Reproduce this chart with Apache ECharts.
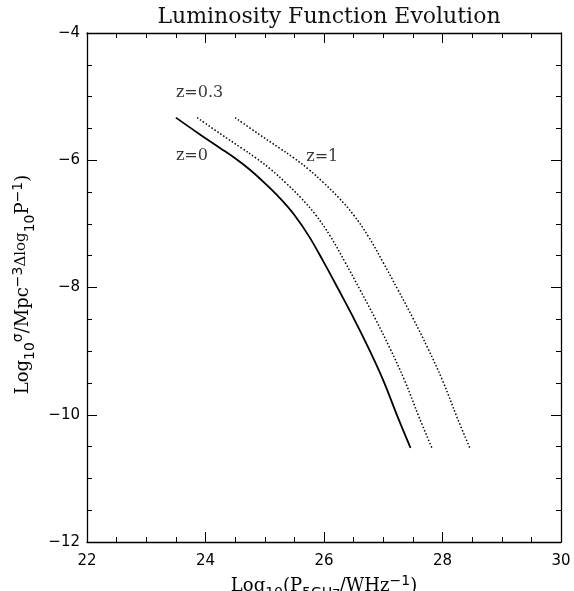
<!DOCTYPE html>
<html>
<head>
<meta charset="utf-8">
<script src="https://cdn.jsdelivr.net/npm/echarts@6/dist/echarts.min.js"></script>
<style>
  html, body { margin: 0; padding: 0; background: #fff; }
  #box { width: 574px; height: 591px; }
</style>
</head>
<body>
<div id="box"></div>
<script>
// data: [log10 P, log10 density]
var z0 = [
  [23.5, -5.33], [23.9, -5.59], [24.25, -5.81], [24.5, -5.97], [24.75, -6.15],
  [25.0, -6.36], [25.25, -6.59], [25.5, -6.86], [25.75, -7.2], [26.0, -7.61],
  [26.25, -8.04], [26.5, -8.48], [26.75, -8.95], [27.0, -9.46], [27.25, -10.05],
  [27.46, -10.52]
];
var z03 = [
  [23.86, -5.33], [24.26, -5.59], [24.61, -5.81], [24.86, -5.97], [25.11, -6.15],
  [25.36, -6.36], [25.61, -6.59], [25.86, -6.86], [26.11, -7.2], [26.36, -7.61],
  [26.61, -8.04], [26.86, -8.48], [27.11, -8.95], [27.36, -9.46], [27.61, -10.05],
  [27.82, -10.52]
];
var z1 = [
  [24.5, -5.33], [24.9, -5.59], [25.25, -5.81], [25.5, -5.97], [25.75, -6.15],
  [26.0, -6.36], [26.25, -6.59], [26.5, -6.86], [26.75, -7.2], [27.0, -7.61],
  [27.25, -8.04], [27.5, -8.48], [27.75, -8.95], [28.0, -9.46], [28.25, -10.05],
  [28.46, -10.52]
];
var curveNames = ["z=0", "z=0.3", "z=1"];
var labelText = ["z=0.3", "z=0", "z=1"];
var labelPos = [[23.5, -4.94], [23.5, -5.93], [25.7, -5.95]];

var xMin = 22, xMax = 30, yMin = -12, yMax = -4;

var myChart = echarts.init(document.getElementById("box"));

var serif = "DejaVu Serif";
var sans = "DejaVu Sans";

function minus(v) {
  return String(v).replace("-", "\u2212");
}

// 坐标轴公共样式
function axisBase() {
  return {
    axisLine: { show: true, onZero: false, lineStyle: { color: "#000", width: 1.3 } },
    axisTick: { show: true, inside: true, length: 10, lineStyle: { color: "#000", width: 1 } },
    minorTick: { show: true, splitNumber: 4, length: 5, lineStyle: { color: "#000", width: 1 } },
    splitLine: { show: false },
    minorSplitLine: { show: false }
  };
}

function xAxis(pos, show) {
  return Object.assign(axisBase(), {
    type: "value",
    position: pos,
    min: xMin,
    max: xMax,
    interval: 2,
    axisLabel: {
      show: show, color: "#000", fontFamily: sans, fontSize: 15, margin: 12,
      formatter: minus
    }
  });
}

function yAxis(pos, show) {
  return Object.assign(axisBase(), {
    type: "value",
    position: pos,
    min: yMin,
    max: yMax,
    interval: 2,
    axisLabel: {
      show: show, color: "#000", fontFamily: sans, fontSize: 15, margin: 7,
      formatter: minus
    }
  });
}

var richName = {
  a: { fontFamily: serif, fontSize: 18, color: "#000" },
  b: { fontFamily: serif, fontSize: 15, color: "#000", padding: [0, 0, 5, 0] },
  sub: { fontFamily: sans, fontSize: 14, color: "#000", padding: [13, 0, 0, 0] },
  sup: { fontFamily: sans, fontSize: 14, color: "#000", padding: [0, 0, 11, 0] }
};

var xa = xAxis("bottom", true);
xa.name = "{a|Log}{sub|10}{a|(P}{sub|5GHz}{a|/WHz}{sup|\u22121}{a|)}";
xa.nameLocation = "middle";
xa.nameGap = 31;
xa.nameTextStyle = { color: "#000", rich: richName };

var ya = yAxis("left", true);
ya.name = "{a|Log}{sub|10}{sup|\u03c3}{a|/Mpc}{sup|\u22123}{b|\u0394log}{sub|10}{a|P}{sup|\u22121}{a|)}";
ya.nameLocation = "middle";
ya.nameGap = 50;
ya.nameTextStyle = { color: "#000", padding: [0, 0, 0, 6], rich: richName };

var labelData = labelText.map(function (t, i) {
  return { name: t, value: labelPos[i] };
});

myChart.setOption({
  animation: false,
  backgroundColor: "#fff",
  title: {
    text: "Luminosity Function Evolution",
    left: 324,
    top: 1,
    textAlign: "center",
    textStyle: { fontFamily: serif, fontWeight: "normal", fontSize: 22, color: "#111" }
  },
  grid: { left: 87, right: 13, top: 33, bottom: 49, containLabel: false, outerBoundsMode: "none" },
  xAxis: [xa, xAxis("top", false)],
  yAxis: [ya, yAxis("right", false)],
  series: [
    {
      name: curveNames[0],
      type: "line",
      data: z0,
      smooth: 0.4,
      showSymbol: false,
      lineStyle: { color: "#000", width: 1.8, type: "solid" }
    },
    {
      name: curveNames[1],
      type: "line",
      data: z03,
      smooth: 0.4,
      showSymbol: false,
      lineStyle: { color: "#000", width: 1.5, type: [1.5, 2] }
    },
    {
      name: curveNames[2],
      type: "line",
      data: z1,
      smooth: 0.4,
      showSymbol: false,
      lineStyle: { color: "#000", width: 1.5, type: [1.5, 2] }
    },
    {
      type: "scatter",
      data: labelData,
      symbolSize: 0,
      label: {
        show: true,
        position: "right",
        distance: 0,
        formatter: "{b}",
        fontFamily: serif,
        fontSize: 16,
        color: "#000"
      }
    }
  ]
});
</script>
</body>
</html>
